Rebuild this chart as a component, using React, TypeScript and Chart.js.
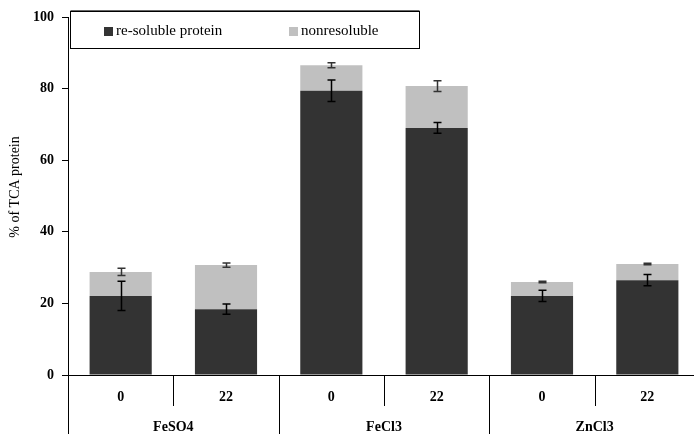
import React, { useEffect, useRef } from "react";
import { Chart, registerables } from "chart.js";

Chart.register(...registerables);

const doses = ["0", "22", "0", "22", "0", "22"];
const groups = ["FeSO4", "FeCl3", "ZnCl3"];
const resoluble = [22.1, 18.4, 79.4, 69.0, 22.1, 26.5];
const nonresoluble = [6.7, 12.3, 7.1, 11.7, 3.9, 4.5];
const resolubleErr = [4.1, 1.4, 3.0, 1.5, 1.6, 1.6];
const nonresolubleErr = [1.0, 0.6, 0.7, 1.5, 0.2, 0.2];
const seriesNames = ["re-soluble protein", "nonresoluble"];
const seriesColors = ["#333333", "#c0c0c0"];
const yTitle = "% of TCA protein";

const FONT = "'Liberation Serif', 'Times New Roman', serif";

const overlayPlugin = {
  id: "overlay",
  afterDatasetsDraw(chart: any) {
    const ctx = chart.ctx;
    const x = chart.scales.x;
    const y = chart.scales.y;
    const errs = [resolubleErr, nonresolubleErr];
    const errColors = ["#000000", "#333333"];
    ctx.save();
    for (let d = 0; d < 2; d++) {
      for (let i = 0; i < doses.length; i++) {
        const top = d === 0 ? resoluble[i] : resoluble[i] + nonresoluble[i];
        const e = errs[d][i];
        const px = Math.round(x.getPixelForValue(i)) + 0.5;
        const y1 = y.getPixelForValue(top + e);
        const y2 = y.getPixelForValue(top - e);
        ctx.strokeStyle = errColors[d];
        ctx.lineWidth = 1.5;
        ctx.beginPath();
        ctx.moveTo(px, y1);
        ctx.lineTo(px, y2);
        ctx.moveTo(px - 4, y1);
        ctx.lineTo(px + 4, y1);
        ctx.moveTo(px - 4, y2);
        ctx.lineTo(px + 4, y2);
        ctx.stroke();
      }
    }
    ctx.restore();
  },
  afterDraw(chart: any) {
    const ctx = chart.ctx;
    const x = chart.scales.x;
    const area = chart.chartArea;
    const H = chart.height;
    ctx.save();
    ctx.strokeStyle = "#000";
    ctx.lineWidth = 1;
    ctx.beginPath();
    const lx = Math.round(area.left) + 0.5;
    ctx.moveTo(lx, area.bottom);
    ctx.lineTo(lx, H);
    for (let i = 1; i < doses.length; i++) {
      const dx = Math.round((x.getPixelForValue(i - 1) + x.getPixelForValue(i)) / 2) + 0.5;
      const long = i % 2 === 0;
      ctx.moveTo(dx, area.bottom);
      ctx.lineTo(dx, long ? H : area.bottom + 31);
    }
    ctx.stroke();
    ctx.fillStyle = "#000";
    ctx.font = `bold 14px ${FONT}`;
    ctx.textAlign = "center";
    ctx.textBaseline = "middle";
    for (let i = 0; i < doses.length; i++) {
      ctx.fillText(doses[i], x.getPixelForValue(i), area.bottom + 22);
    }
    for (let g = 0; g < groups.length; g++) {
      const cx = (x.getPixelForValue(2 * g) + x.getPixelForValue(2 * g + 1)) / 2;
      ctx.fillText(groups[g], cx, area.bottom + 52);
    }
    ctx.font = `14px ${FONT}`;
    ctx.save();
    ctx.translate(15, (area.top + area.bottom) / 2 - 9);
    ctx.rotate(-Math.PI / 2);
    ctx.fillText(yTitle, 0, 0);
    ctx.restore();
    const bx = area.left + 2.5;
    const by = area.top - 5.5;
    ctx.fillStyle = "#fff";
    ctx.fillRect(bx, by, 349, 37);
    ctx.strokeStyle = "#000";
    ctx.lineWidth = 1;
    ctx.strokeRect(bx, by, 349, 37);
    ctx.strokeStyle = "#666";
    ctx.beginPath();
    ctx.moveTo(bx, by - 1);
    ctx.lineTo(bx + 349, by - 1);
    ctx.stroke();
    ctx.font = `15px ${FONT}`;
    ctx.textAlign = "left";
    const entriesX = [bx + 33.5, bx + 218.5];
    for (let s = 0; s < 2; s++) {
      ctx.fillStyle = seriesColors[s];
      ctx.fillRect(entriesX[s], by + 15.5, 9, 9);
      ctx.fillStyle = "#000";
      ctx.fillText(seriesNames[s], entriesX[s] + 12, by + 20);
    }
    ctx.restore();
  },
};

export default function App() {
  const ref = useRef<HTMLCanvasElement | null>(null);
  useEffect(() => {
    if (!ref.current) return;
    const chart = new Chart(ref.current, {
      type: "bar",
      data: {
        labels: doses,
        datasets: [
          {
            label: seriesNames[0],
            data: resoluble,
            backgroundColor: seriesColors[0],
            barPercentage: 0.59,
            categoryPercentage: 1,
          },
          {
            label: seriesNames[1],
            data: nonresoluble,
            backgroundColor: seriesColors[1],
            barPercentage: 0.59,
            categoryPercentage: 1,
          },
        ],
      },
      options: {
        responsive: false,
        animation: false,
        layout: { padding: { top: 17, left: 0, right: 0, bottom: 0 } },
        plugins: {
          legend: { display: false },
          tooltip: { enabled: false },
        },
        scales: {
          x: {
            stacked: true,
            offset: true,
            grid: { display: false, drawOnChartArea: false, drawTicks: false },
            border: { display: true, color: "#000", width: 1 },
            ticks: { display: false },
            afterFit: (s: any) => {
              s.height = 59;
            },
          },
          y: {
            stacked: true,
            min: 0,
            max: 100,
            ticks: {
              stepSize: 20,
              padding: 8,
              color: "#000",
              font: { family: FONT, size: 14, weight: "bold" },
            },
            grid: {
              drawOnChartArea: false,
              drawTicks: true,
              tickLength: 6,
              color: "#000",
            },
            border: { display: true, color: "#000", width: 1 },
            afterFit: (s: any) => {
              s.width = 68;
            },
          },
        },
      },
      plugins: [overlayPlugin],
    });
    return () => chart.destroy();
  }, []);
  return (
    <div
      style={{
        position: "fixed",
        left: 0,
        top: 0,
        width: 694,
        height: 434,
        overflow: "hidden",
        background: "#fff",
      }}
    >
      <canvas ref={ref} width={700} height={434} style={{ display: "block" }} />
    </div>
  );
}
